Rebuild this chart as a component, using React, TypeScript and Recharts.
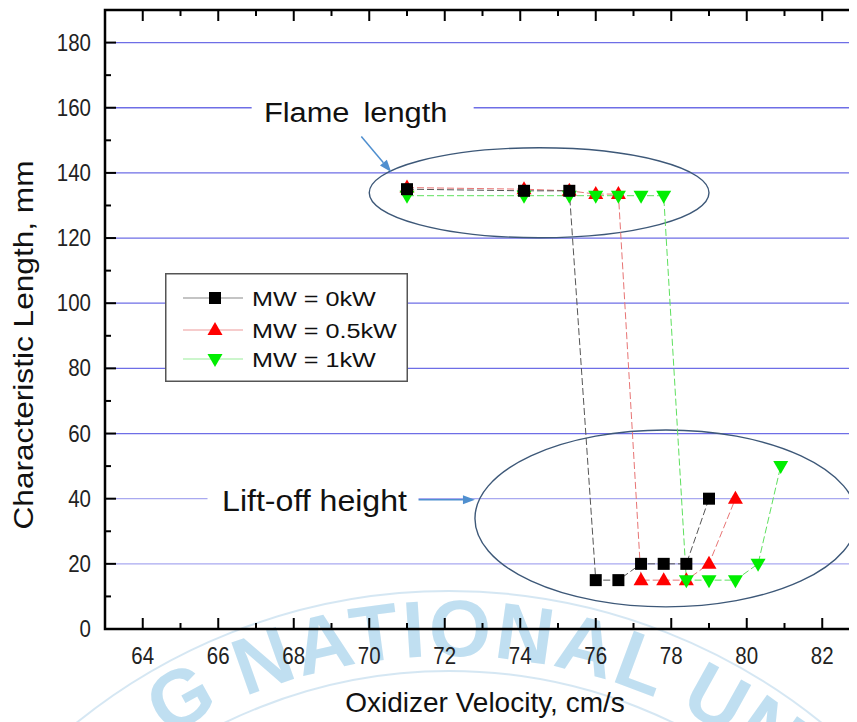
import React from 'react';
import {
  ComposedChart,
  Line,
  XAxis,
  YAxis,
  CartesianGrid,
  ReferenceLine,
  ReferenceArea,
  ReferenceDot,
  Legend,
} from 'recharts';

// Oxidizer velocity (cm/s) against characteristic length (mm), one pair of lists per microwave power
const velocityMW0 = [71.0, 74.1, 75.3, 76.0, 76.6, 77.2, 77.8, 78.4, 79.0];
const lengthMW0 = [135, 134.5, 134.5, 15, 15, 20, 20, 20, 40];

const velocityMW05 = [71.0, 74.1, 75.3, 76.0, 76.6, 77.2, 77.8, 78.4, 79.0, 79.7];
const lengthMW05 = [135.5, 135, 134.5, 133.5, 133.5, 15, 15, 15, 20, 40];

const velocityMW1 = [71.0, 74.1, 75.3, 76.0, 76.6, 77.2, 77.8, 78.4, 79.0, 79.7, 80.3, 80.9];
const lengthMW1 = [133, 133, 133, 133, 133, 133, 133, 15, 15, 15, 20, 50];

const seriesNames = ['MW = 0kW', 'MW = 0.5kW', 'MW = 1kW'];

const xDomain = [63, 83];
const yDomain = [0, 190];
const xTickValues = [64, 65, 66, 67, 68, 69, 70, 71, 72, 73, 74, 75, 76, 77, 78, 79, 80, 81, 82];
const yTickValues = [0, 10, 20, 30, 40, 50, 60, 70, 80, 90, 100, 110, 120, 130, 140, 150, 160, 170, 180];
const gridStrong = [60, 80, 100, 120, 140, 160, 180];
const gridFaint = [20, 40];

const xTitle = 'Oxidizer Velocity, cm/s';
const yTitle = 'Characteristic Length, mm';
const flameText = 'Flame length';
const liftText = 'Lift-off height';
const sealText = 'G NATIONAL UNI';

const FONT = '"Liberation Sans", Arial, Helvetica, sans-serif';
const FRAME_COLOR = '#000000';
const TICK_COLOR = '#000000';

const toPoints = (xs: number[], ys: number[]) => xs.map((v, i) => ({ v, len: ys[i] }));
const dataMW0 = toPoints(velocityMW0, lengthMW0);
const dataMW05 = toPoints(velocityMW05, lengthMW05);
const dataMW1 = toPoints(velocityMW1, lengthMW1);

// ---- markers ----
const SquareMark = ({ cx, cy }: { cx: number; cy: number }) => (
  <rect x={cx - 6} y={cy - 6} width={12} height={12} fill="#000" />
);
const UpMark = ({ cx, cy }: { cx: number; cy: number }) => (
  <polygon points={`${cx},${cy - 8} ${cx - 7.5},${cy + 5} ${cx + 7.5},${cy + 5}`} fill="#ff0000" />
);
const DownMark = ({ cx, cy }: { cx: number; cy: number }) => (
  <polygon points={`${cx - 7.5},${cy - 5} ${cx + 7.5},${cy - 5} ${cx},${cy + 8}`} fill="#00ee00" />
);

const dotRenderer = (Mark: any, tag: string) => (p: any) => {
  if (p.cx == null || p.cy == null) return <g key={`${tag}-${p.index}`} />;
  return (
    <g key={`${tag}-${p.index}`}>
      <Mark cx={p.cx} cy={p.cy} />
    </g>
  );
};

// ---- tick labels ----
const tickText = (x: number, y: number, anchor: string, label: React.ReactNode) => (
  <text
    transform={`translate(${x},${y}) scale(0.89,1)`}
    textAnchor={anchor}
    fontFamily={FONT}
    fontSize={23}
    fill="#222"
  >
    {label}
  </text>
);

const BottomLabel = (p: any) => {
  const { x, y, payload } = p;
  if (payload.value % 2 !== 0) return <g />;
  return tickText(x, y + 35, 'middle', payload.value);
};

const LeftLabel = (p: any) => {
  const { x, y, payload } = p;
  if (payload.value % 20 !== 0) return <g />;
  return tickText(x - 14, y + 8, 'end', payload.value);
};

// ---- inward tick marks on all four sides of the frame ----
const markLen = (major: boolean) => (major ? 11 : 6);
const UpTick = (major: boolean) => (p: any) =>
  <line x1={p.cx} x2={p.cx} y1={p.cy} y2={p.cy - markLen(major)} stroke={TICK_COLOR} strokeWidth={2} />;
const DownTick = (major: boolean) => (p: any) =>
  <line x1={p.cx} x2={p.cx} y1={p.cy} y2={p.cy + markLen(major)} stroke={TICK_COLOR} strokeWidth={2} />;
const RightwardTick = (major: boolean) => (p: any) =>
  <line x1={p.cx} x2={p.cx + markLen(major)} y1={p.cy} y2={p.cy} stroke={TICK_COLOR} strokeWidth={2} />;
const LeftwardTick = (major: boolean) => (p: any) =>
  <line x1={p.cx} x2={p.cx - markLen(major)} y1={p.cy} y2={p.cy} stroke={TICK_COLOR} strokeWidth={2} />;

const FrameShape = (p: any) => (
  <rect x={p.x} y={p.y} width={p.width} height={p.height} fill="none" stroke={FRAME_COLOR} strokeWidth={2.5} />
);

// ---- axis titles ----
const XTitle = () => (
  <text x={477} y={704} textAnchor="middle" fontFamily={FONT} fontSize={28} fill="#111">
    {xTitle}
  </text>
);
const YTitle = () => (
  <text
    transform="translate(25,337) rotate(-90) scale(1.13,1)"
    textAnchor="middle"
    fontFamily={FONT}
    fontSize={28}
    fill="#111"
  >
    {yTitle}
  </text>
);

// ---- annotations ----
const EllipseShape = (p: any) => (
  <ellipse
    cx={p.x + p.width / 2}
    cy={p.y + p.height / 2}
    rx={Math.abs(p.width) / 2}
    ry={Math.abs(p.height) / 2}
    fill="none"
    stroke="#3d5878"
    strokeWidth={1.4}
  />
);

const ArrowShape = (p: any) => {
  const { x1, y1, x2, y2 } = p;
  const a = Math.atan2(y2 - y1, x2 - x1);
  const L = 12;
  const W = 4.5;
  const bx = x2 - L * Math.cos(a);
  const by = y2 - L * Math.sin(a);
  const pts = `${x2},${y2} ${bx + W * Math.sin(a)},${by - W * Math.cos(a)} ${bx - W * Math.sin(a)},${by + W * Math.cos(a)}`;
  return (
    <g>
      <line x1={x1} y1={y1} x2={bx} y2={by} stroke="#4f8fcf" strokeWidth={1.5} />
      <polygon points={pts} fill="#4f8fcf" />
    </g>
  );
};

const FlameLabel = (p: any) => (
  <g>
    <rect x={p.cx - 104} y={p.cy - 18} width={222} height={36} fill="#fff" />
    <text
      transform={`translate(${p.cx},${p.cy + 14}) scale(1.1,1)`}
      textAnchor="middle"
      fontFamily={FONT}
      fontSize={28}
      wordSpacing={5}
      fill="#111"
    >
      {flameText}
    </text>
  </g>
);

const LiftLabel = (p: any) => (
  <g>
    <rect x={p.cx - 107} y={p.cy - 18} width={211} height={36} fill="#fff" />
    <text
      transform={`translate(${p.cx},${p.cy + 12.5}) scale(1.07,1)`}
      textAnchor="middle"
      fontFamily={FONT}
      fontSize={30}
      fill="#111"
    >
      {liftText}
    </text>
  </g>
);

// ---- legend ----
const legendRows = [
  { name: seriesNames[0], line: '#8a8a8a', Mark: SquareMark },
  { name: seriesNames[1], line: '#ee9a9a', Mark: UpMark },
  { name: seriesNames[2], line: '#9aee9a', Mark: DownMark },
];
const rowY = [25, 57, 86];

const LegendBox = () => (
  <svg width={243} height={109} style={{ display: 'block' }}>
    <rect x={0.75} y={0.75} width={241.5} height={107.5} fill="#fff" stroke="#555" strokeWidth={1.5} />
    {legendRows.map((r, i) => (
      <g key={r.name}>
        <line x1={18} x2={78} y1={rowY[i]} y2={rowY[i]} stroke={r.line} strokeWidth={1.2} />
        <r.Mark cx={50} cy={rowY[i]} />
        <text
          transform={`translate(87,${rowY[i] + 7.5}) scale(1.2,1)`}
          fontFamily={FONT}
          fontSize={21}
          fill="#111"
        >
          {r.name}
        </text>
      </g>
    ))}
  </svg>
);

// ---- faint circular seal lettering behind the lower part of the figure ----
const Seal = () => {
  const cx = 441;
  const cy = 1175;
  const r = 527;
  return (
    <svg width={849} height={714} style={{ position: 'absolute', left: 0, top: 0 }}>
      <defs>
        <path id="seal-arc" d={`M ${cx - r},${cy} A ${r} ${r} 0 0 1 ${cx + r},${cy}`} />
      </defs>
      <g opacity={0.55}>
        <circle cx={cx} cy={cy} r={592} fill="none" stroke="#b4d4ea" strokeWidth={2} />
        <circle cx={cx} cy={cy} r={512} fill="none" stroke="#b4d4ea" strokeWidth={2} />
        <text fontFamily={FONT} fontWeight="bold" fontSize={80} fill="#8ec6e6" letterSpacing={2}>
          <textPath href="#seal-arc" startOffset="52.5%" textAnchor="middle">
            {sealText}
          </textPath>
        </text>
      </g>
    </svg>
  );
};

export default function App() {
  return (
    <div style={{ position: 'relative', width: 849, height: 714, overflow: 'hidden', background: '#fff' }}>
      <Seal />
      <div style={{ position: 'absolute', left: 0, top: 0 }}>
        <ComposedChart width={860} height={714} margin={{ top: 2, right: 8, bottom: 0, left: 0 }}>
          <CartesianGrid vertical={false} horizontalValues={gridStrong} stroke="#6e6ee6" strokeWidth={1.3} />
          <CartesianGrid vertical={false} horizontalValues={gridFaint} stroke="#a9a9f0" strokeWidth={1.3} />

          <XAxis
            type="number"
            dataKey="v"
            domain={xDomain}
            ticks={xTickValues}
            interval={0}
            tickSize={0}
            tickMargin={0}
            tickLine={false}
            tick={BottomLabel}
            axisLine={false}
            height={93}
            allowDataOverflow
            label={() => <XTitle />}
          />
          <YAxis
            type="number"
            domain={yDomain}
            ticks={yTickValues}
            interval={0}
            tickSize={0}
            tickMargin={0}
            tickLine={false}
            tick={LeftLabel}
            axisLine={false}
            width={97}
            allowDataOverflow
            label={() => <YTitle />}
          />

          <ReferenceArea x1={70.0} x2={79.0} y1={120.1} y2={147.7} ifOverflow="visible" shape={EllipseShape} />
          <ReferenceArea x1={72.8} x2={82.92} y1={6.8} y2={61.1} ifOverflow="visible" shape={EllipseShape} />

          <Line
            data={dataMW05}
            dataKey="len"
            stroke="#e87474"
            strokeWidth={1}
            strokeDasharray="7 3"
            dot={dotRenderer(UpMark, 'r')}
            activeDot={false}
            legendType="none"
            isAnimationActive={false}
          />
          <Line
            data={dataMW1}
            dataKey="len"
            stroke="#5ee05e"
            strokeWidth={1}
            strokeDasharray="7 3"
            dot={dotRenderer(DownMark, 'g')}
            activeDot={false}
            legendType="none"
            isAnimationActive={false}
          />
          <Line
            data={dataMW0}
            dataKey="len"
            stroke="#555"
            strokeWidth={1}
            strokeDasharray="7 3"
            dot={dotRenderer(SquareMark, 'k')}
            activeDot={false}
            legendType="none"
            isAnimationActive={false}
          />

          <ReferenceLine
            segment={[{ x: 69.79, y: 151.2 }, { x: 70.58, y: 140.3 }]}
            ifOverflow="visible"
            shape={ArrowShape}
          />
          <ReferenceLine
            segment={[{ x: 71.27, y: 39.7 }, { x: 72.8, y: 39.7 }]}
            ifOverflow="visible"
            shape={ArrowShape}
          />
          <ReferenceDot x={69.64} y={160} r={1} ifOverflow="visible" shape={FlameLabel} />
          <ReferenceDot x={68.55} y={40} r={1} ifOverflow="visible" shape={LiftLabel} />

          {/* plot frame with inward ticks */}
          <ReferenceArea
            x1={xDomain[0]}
            x2={xDomain[1]}
            y1={yDomain[0]}
            y2={yDomain[1]}
            ifOverflow="visible"
            shape={FrameShape}
          />
          {xTickValues.map((v) => (
            <ReferenceDot key={`b${v}`} x={v} y={yDomain[0]} r={1} ifOverflow="visible" shape={UpTick(v % 2 === 0)} />
          ))}
          {xTickValues.map((v) => (
            <ReferenceDot key={`t${v}`} x={v} y={yDomain[1]} r={1} ifOverflow="visible" shape={DownTick(v % 2 === 0)} />
          ))}
          {yTickValues.map((v) => (
            <ReferenceDot key={`l${v}`} x={xDomain[0]} y={v} r={1} ifOverflow="visible" shape={RightwardTick(v % 20 === 0)} />
          ))}
          {yTickValues.map((v) => (
            <ReferenceDot key={`r${v}`} x={xDomain[1]} y={v} r={1} ifOverflow="visible" shape={LeftwardTick(v % 20 === 0)} />
          ))}

          <Legend
            layout="vertical"
            align="center"
            verticalAlign="middle"
            wrapperStyle={{ left: 157, top: 265, width: 243, height: 109 }}
            content={() => <LegendBox />}
          />
        </ComposedChart>
      </div>
    </div>
  );
}
